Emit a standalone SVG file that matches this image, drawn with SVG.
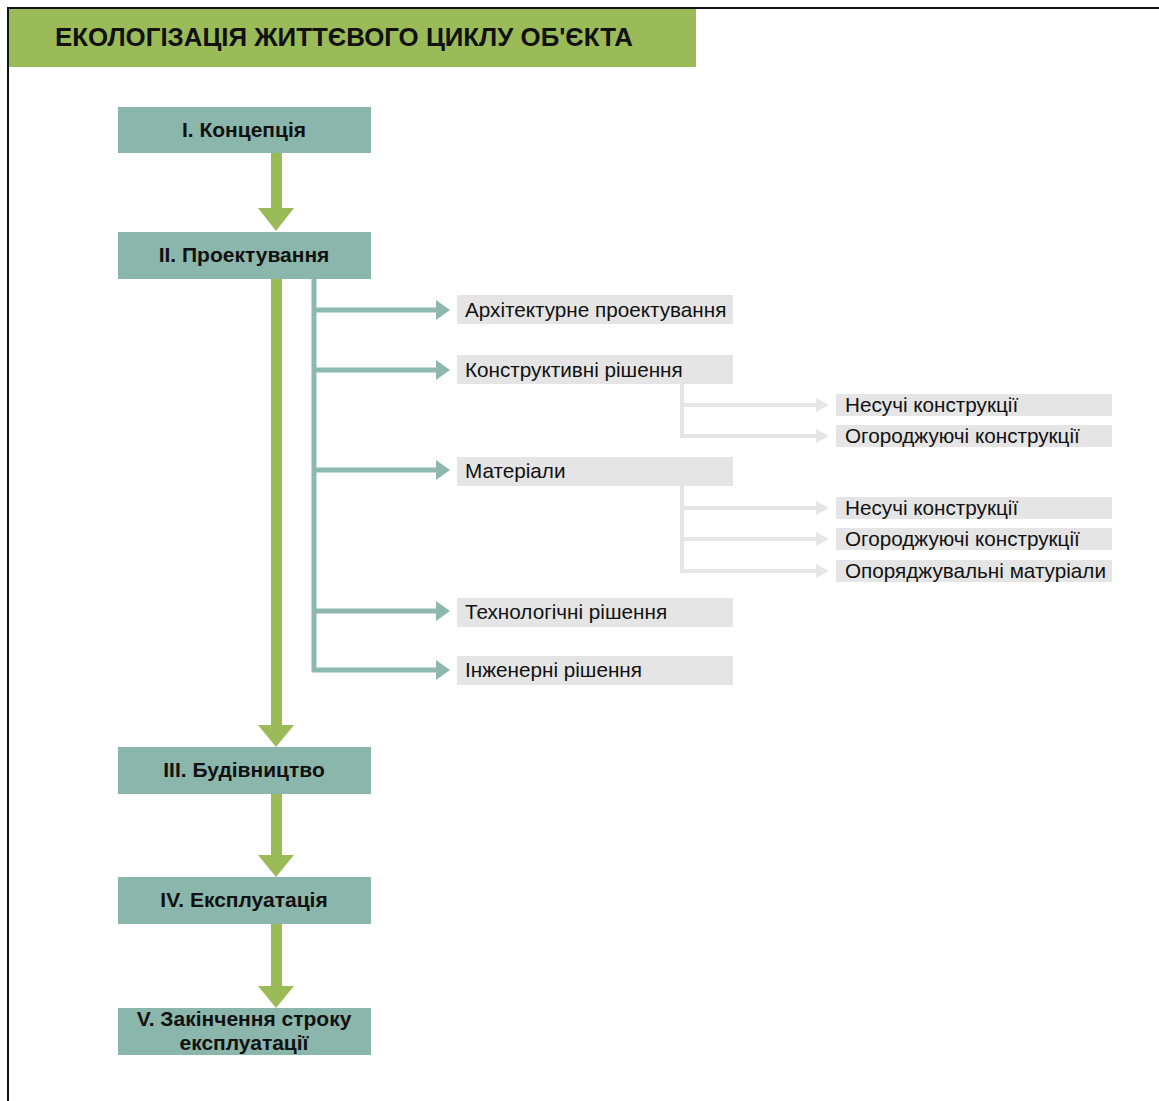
<svg xmlns="http://www.w3.org/2000/svg" width="1159" height="1101" viewBox="0 0 1159 1101">
<style>
.stage{fill:#8BB6AB}
.stxt{font-family:"Liberation Sans",Arial,sans-serif;font-weight:bold;font-size:21px;fill:#111;text-anchor:middle}
.box{fill:#E5E5E5}
.btxt{font-family:"Liberation Sans",Arial,sans-serif;font-size:20.7px;fill:#111}
.g{fill:#9BBB59}
.t{stroke:#8DB8AE;stroke-width:5;fill:none}
.th{fill:#8DB8AE}
.l{stroke:#E6E6E6;stroke-width:4;fill:none}
.lh{fill:#E6E6E6}
</style>
<rect width="1159" height="1101" fill="#fff"/>
<path d="M8 1101V8H1159" stroke="#111" stroke-width="2" fill="none"/>
<rect x="9" y="9" width="687" height="58" fill="#9BBB59"/>
<text x="55" y="46" font-family="'Liberation Sans',Arial,sans-serif" font-weight="bold" font-size="25" fill="#111" textLength="578" lengthAdjust="spacingAndGlyphs">ЕКОЛОГІЗАЦІЯ ЖИТТЄВОГО ЦИКЛУ ОБ'ЄКТА</text>

<g id="connectors">
  <g id="green-arrows">
    <rect class="g" x="271" y="153" width="11" height="56"/><polygon class="g" points="258,208 294,208 276,231"/>
    <rect class="g" x="271" y="279" width="11" height="447"/><polygon class="g" points="258,725 294,725 276,747"/>
    <rect class="g" x="271" y="794" width="11" height="62"/><polygon class="g" points="258,855 294,855 276,877"/>
    <rect class="g" x="271" y="924" width="11" height="63"/><polygon class="g" points="258,986 294,986 276,1008"/>
  </g>
  <g id="teal-branches">
    <path class="t" d="M314 279V672"/>
    <path class="t" d="M312 310H438M312 370H438M312 470H438M312 611H438M312 670H438"/>
    <polygon class="th" points="436,300 450,310 436,320"/>
    <polygon class="th" points="436,360 450,370 436,380"/>
    <polygon class="th" points="436,460 450,470 436,480"/>
    <polygon class="th" points="436,601 450,611 436,621"/>
    <polygon class="th" points="436,660 450,670 436,680"/>
  </g>
  <g id="gray-branches">
    <path class="l" d="M682 384V438M680 405H818M680 436H818"/>
    <polygon class="lh" points="816,398 829,405 816,412"/>
    <polygon class="lh" points="816,429 829,436 816,443"/>
    <path class="l" d="M682 486V573M680 508H818M680 539H818M680 571H818"/>
    <polygon class="lh" points="816,501 829,508 816,515"/>
    <polygon class="lh" points="816,532 829,539 816,546"/>
    <polygon class="lh" points="816,564 829,571 816,578"/>
  </g>
</g>

<g id="stage1"><rect class="stage" x="118" y="107" width="253" height="46"/><text class="stxt" x="244" y="137">I. Концепція</text></g>
<g id="stage2"><rect class="stage" x="118" y="232" width="253" height="47"/><text class="stxt" x="244" y="262">II. Проектування</text></g>
<g id="stage3"><rect class="stage" x="118" y="747" width="253" height="47"/><text class="stxt" x="244" y="777">III. Будівництво</text></g>
<g id="stage4"><rect class="stage" x="118" y="877" width="253" height="47"/><text class="stxt" x="244" y="907">IV. Експлуатація</text></g>
<g id="stage5"><rect class="stage" x="118" y="1008" width="253" height="47"/><text class="stxt" x="244" y="1026">V. Закінчення строку</text><text class="stxt" x="244" y="1050">експлуатації</text></g>

<g id="arch"><rect class="box" x="457" y="295" width="276" height="29"/><text class="btxt" x="465" y="317">Архітектурне проектування</text></g>
<g id="konstr"><rect class="box" x="457" y="355" width="276" height="29"/><text class="btxt" x="465" y="377">Конструктивні рішення</text></g>
<g id="mater"><rect class="box" x="457" y="457" width="276" height="29"/><text class="btxt" x="465" y="478">Матеріали</text></g>
<g id="tech"><rect class="box" x="457" y="598" width="276" height="29"/><text class="btxt" x="465" y="619">Технологічні рішення</text></g>
<g id="inzh"><rect class="box" x="457" y="656" width="276" height="29"/><text class="btxt" x="465" y="677">Інженерні рішення</text></g>

<g id="k-nes"><rect class="box" x="836" y="394" width="276" height="22"/><text class="btxt" x="845" y="412">Несучі конструкції</text></g>
<g id="k-ogor"><rect class="box" x="836" y="425" width="276" height="22"/><text class="btxt" x="845" y="443">Огороджуючі конструкції</text></g>
<g id="m-nes"><rect class="box" x="836" y="497" width="276" height="22"/><text class="btxt" x="845" y="515">Несучі конструкції</text></g>
<g id="m-ogor"><rect class="box" x="836" y="528" width="276" height="22"/><text class="btxt" x="845" y="546">Огороджуючі конструкції</text></g>
<g id="m-opor"><rect class="box" x="836" y="560" width="276" height="22"/><text class="btxt" x="845" y="578">Опоряджувальні матуріали</text></g>
</svg>
